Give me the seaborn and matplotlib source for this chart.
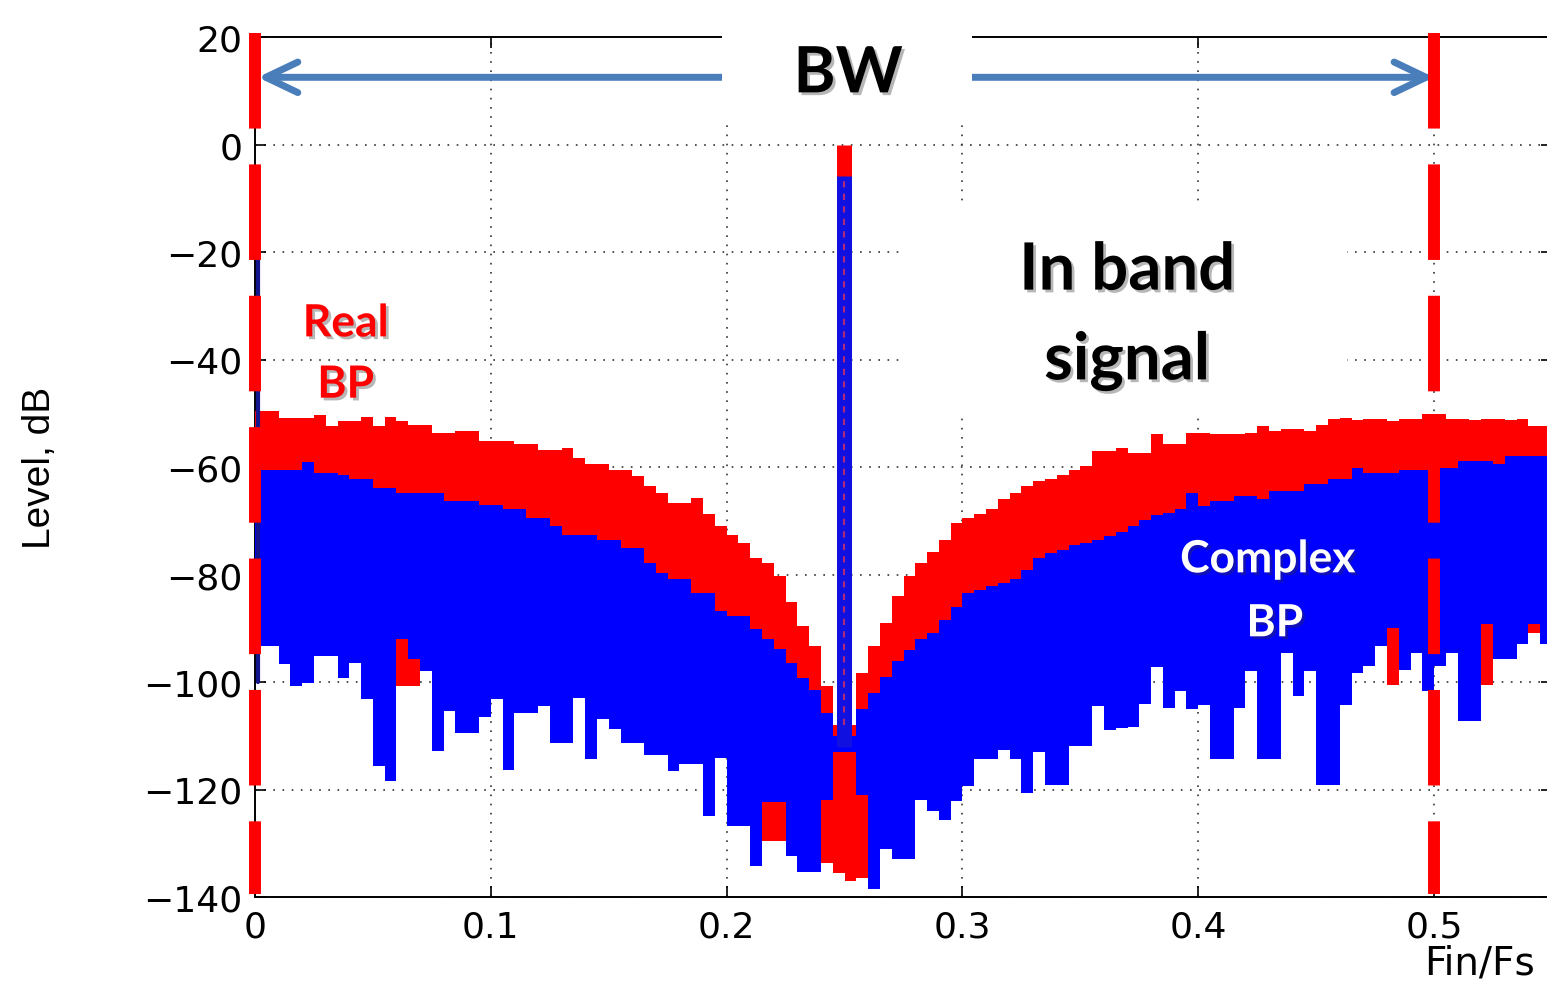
import numpy as np
import matplotlib
matplotlib.use("Agg")
import matplotlib.pyplot as plt
import seaborn as sns
from matplotlib import patheffects as pe
from matplotlib.patches import Rectangle

# ── Data (dB per 0.005 Fin/Fs bin) ──────────────────────────────
bin_width = 0.005

real_top = [
    -49.6, -49.6, -50.9, -50.9, -50.9, -50.4, -52.4, -51.5, -51.5, -50.7,
    -52.4, -50.7, -51.5, -52.1, -52.1, -53.6, -53.6, -53.3, -53.3, -55.2,
    -55.2, -55.2, -55.8, -55.8, -56.8, -56.8, -56.4, -58.3, -59.5, -59.5,
    -60.5, -60.5, -61.7, -63.6, -64.8, -66.7, -66.7, -65.7, -68.8, -71.0,
    -72.6, -74.1, -76.9, -77.8, -80.3, -85.2, -89.6, -93.3, -100.8, -108.0,
    -108.0, -98.3, -93.3, -89.0, -84.0, -80.3, -77.8, -75.9, -73.5, -70.4,
    -69.5, -68.8, -67.9, -66.0, -64.8, -63.6, -62.6, -62.3, -61.4, -60.5,
    -59.8, -57.0, -57.0, -56.4, -57.4, -57.4, -53.9, -55.8, -55.8, -53.6,
    -53.6, -53.9, -53.9, -53.9, -53.6, -52.4, -53.3, -52.9, -52.9, -53.3,
    -52.1, -51.1, -50.9, -51.3, -51.1, -51.1, -51.4, -51.1, -51.1, -50.2,
    -50.2, -51.1, -51.0, -51.2, -51.1, -51.1, -51.3, -51.1, -52.3, -52.3,
]
real_bot = [
    -93.3, -93.3, -96.7, -100.8, -100.1, -95.2, -95.2, -99.2, -96.4, -103.2,
    -115.7, -118.5, -100.8, -100.8, -98.0, -112.9, -105.4, -109.4, -109.4, -106.6,
    -103.2, -116.3, -105.7, -105.7, -104.5, -111.3, -111.3, -102.9, -114.4, -106.9,
    -108.8, -111.3, -111.3, -113.5, -113.5, -116.6, -115.3, -115.3, -125.0, -114.1,
    -126.8, -126.8, -134.3, -129.6, -129.6, -132.3, -135.4, -135.4, -133.6, -135.5,
    -137.0, -136.5, -138.6, -131.0, -133.0, -133.0, -121.9, -124.0, -125.6, -122.2,
    -119.4, -114.4, -114.4, -112.6, -114.4, -120.6, -113.0, -119.2, -119.2, -111.9,
    -111.9, -104.5, -109.0, -108.6, -108.4, -104.0, -97.2, -104.8, -101.7, -105.1,
    -104.2, -114.4, -114.4, -104.8, -98.0, -114.4, -114.4, -94.6, -102.6, -98.0,
    -119.2, -119.2, -104.2, -98.3, -97.0, -93.3, -100.5, -97.7, -94.6, -101.7,
    -97.0, -94.6, -107.3, -107.3, -100.5, -95.8, -95.8, -93.0, -90.8, -93.0,
]
complex_top = [
    -60.5, -60.5, -60.5, -60.5, -59.0, -61.1, -61.1, -61.4, -62.3, -62.3,
    -63.9, -63.9, -64.8, -64.8, -64.8, -64.8, -66.4, -66.4, -66.4, -67.0,
    -67.0, -67.9, -67.9, -69.5, -69.5, -71.0, -72.6, -72.6, -72.6, -73.5,
    -73.5, -75.0, -75.0, -77.8, -79.7, -80.9, -80.9, -83.4, -83.4, -86.8,
    -87.7, -87.7, -90.2, -92.0, -93.9, -96.4, -99.2, -101.4, -105.7, -110.0,
    -110.0, -105.0, -102.0, -99.0, -96.0, -94.0, -92.0, -90.8, -88.5, -86.0,
    -83.4, -82.8, -82.2, -81.5, -80.9, -79.1, -77.0, -76.0, -75.4, -74.5,
    -74.1, -73.5, -72.9, -72.0, -71.0, -69.8, -69.0, -68.5, -67.9, -64.8,
    -67.3, -66.3, -66.3, -65.4, -65.4, -66.0, -64.4, -64.4, -64.4, -63.2,
    -63.2, -62.2, -62.2, -60.2, -61.1, -61.1, -61.1, -60.5, -60.5, -60.5,
    -60.2, -60.2, -58.9, -58.9, -58.9, -59.5, -57.9, -57.9, -57.9, -57.9,
]
complex_bot = [
    -93.3, -93.3, -96.7, -100.8, -100.1, -95.2, -95.2, -99.2, -96.4, -103.2,
    -115.7, -118.5, -92.0, -95.8, -98.0, -112.9, -105.4, -109.4, -109.4, -106.6,
    -103.2, -116.3, -105.7, -105.7, -104.5, -111.3, -111.3, -102.9, -114.4, -106.9,
    -108.8, -111.3, -111.3, -113.5, -113.5, -116.6, -115.3, -115.3, -125.0, -114.1,
    -126.8, -126.8, -134.3, -122.4, -122.4, -132.3, -135.4, -135.4, -122.0, -113.0,
    -113.0, -121.0, -138.6, -131.0, -133.0, -133.0, -121.9, -124.0, -125.6, -122.2,
    -119.4, -114.4, -114.4, -112.6, -114.4, -120.6, -113.0, -119.2, -119.2, -111.9,
    -111.9, -104.5, -109.0, -108.6, -108.4, -104.0, -97.2, -104.8, -101.7, -105.1,
    -104.2, -114.4, -114.4, -104.8, -98.0, -114.4, -114.4, -94.6, -102.6, -98.0,
    -119.2, -119.2, -104.2, -98.3, -97.0, -93.3, -89.9, -97.7, -94.6, -101.7,
    -97.0, -94.6, -107.3, -107.3, -89.3, -95.8, -95.8, -93.0, -89.3, -93.0,
]

# in-band tone and the DC leak
tone_freq = 0.2498
tone_real_db = 0.0
tone_complex_db = -5.9
tone_floor_db = [-108.0, -112.0]
dc_freq = 0.0012
dc_db = [-20.0, -100.0]

bw_edges = [0.0, 0.5]
bw_arrow_db = 12.5

x_ticks = [0, 0.1, 0.2, 0.3, 0.4, 0.5]
x_labels = ["0", "0.1", "0.2", "0.3", "0.4", "0.5"]
y_ticks = [-140, -120, -100, -80, -60, -40, -20, 0, 20]

RED = "#ff0000"
BLUE = "#0000ff"
ARROW = "#4a7ebb"

# ── Style ───────────────────────────────────────────────────────
sns.set_theme(style="ticks")
plt.rcParams["font.family"] = ["DejaVu Sans"]
plt.rcParams["text.color"] = "black"

fig = plt.figure(figsize=(15.47, 9.87), dpi=100)
ax = fig.add_axes([255 / 1547, 89 / 987, 1297 / 1547, 860 / 987])
ax.set_xlim(0, 0.55)
ax.set_ylim(-140, 20)

# ── Spectra ─────────────────────────────────────────────────────
x_edges = np.arange(len(real_top) + 1) * bin_width


def steps(v):
    return np.append(v, v[-1])


ax.fill_between(x_edges, steps(real_bot), steps(real_top), step="post",
                color=RED, lw=0, zorder=3)
ax.fill_between(x_edges, steps(complex_bot), steps(complex_top), step="post",
                color=BLUE, lw=0, zorder=4)

# tone spike
ax.plot([tone_freq, tone_freq], [tone_floor_db[0], tone_real_db],
        color=RED, lw=10.8, solid_capstyle="butt", zorder=5)
ax.plot([tone_freq, tone_freq], [tone_floor_db[1], tone_complex_db],
        color="#1010e0", lw=10.8, solid_capstyle="butt", zorder=6)
ax.plot([tone_freq, tone_freq], [tone_floor_db[0], tone_complex_db],
        color="#b02878", lw=1.5, ls=(0, (3, 3)), zorder=7)
ax.plot([dc_freq, dc_freq], dc_db, color="#14148c", lw=3, zorder=5)

# ── Axes cosmetics ──────────────────────────────────────────────
ax.set_xticks(x_ticks)
ax.set_xticklabels(x_labels)
ax.set_yticks(y_ticks)
ax.tick_params(axis="both", direction="in", length=8, width=1.2,
               labelsize=26, pad=9, top=True, right=True, colors="black")
ax.grid(True, color="#333333", linestyle=(0, (1, 4.5)), lw=1.2)
ax.set_axisbelow(True)
for side in ["left", "bottom", "top", "right"]:
    ax.spines[side].set_color("black")
    ax.spines[side].set_linewidth(1.4)

fig.text(40 / 1547, 1 - 468 / 987, "Level, dB", rotation=90,
         ha="center", va="center", fontsize=28, color="black",
         family=["Liberation Sans", "DejaVu Sans"])
fig.text(1535 / 1547, 1 - 964 / 987, "Fin/Fs", ha="right", va="center",
         fontsize=28, color="black")

# ── BW markers ──────────────────────────────────────────────────
for xb in bw_edges:
    ax.plot([xb, xb], [20.8, -139.5], color=RED, lw=8.6,
            ls=(0, (8.0, 3.0)), dash_capstyle="butt",
            clip_on=False, zorder=9)

ax.annotate("", xy=(0.0012, bw_arrow_db), xytext=(bw_edges[1], bw_arrow_db),
            arrowprops=dict(arrowstyle="<->,head_length=2.3,head_width=1.1",
                            color=ARROW, lw=5, shrinkA=0, shrinkB=0,
                            mutation_scale=10, capstyle="round",
                            joinstyle="round"),
            zorder=8, annotation_clip=False)

ax.add_patch(Rectangle((0.198, 3.7), 0.106, 19.5, facecolor="white",
                       edgecolor="none", clip_on=False, zorder=10))
ax.add_patch(Rectangle((0.2757, -49.7), 0.1874, 38.0, facecolor="white",
                       edgecolor="none", zorder=2))

# ── Annotations ─────────────────────────────────────────────────
shadow = [pe.withSimplePatchShadow(offset=(2, -2), shadow_rgbFace="0.2",
                                   alpha=0.35)]
ann = dict(family=["Lato", "DejaVu Sans"], weight="bold", ha="center",
           va="baseline", path_effects=shadow, zorder=11)

ax.text(0.2515, 9.7, "BW", fontsize=46, color="black", **ann)
ax.text(0.3698, -27.0, "In band", fontsize=47, color="black", **ann)
ax.text(0.3698, -43.7, "signal", fontsize=47, color="black", **ann)
ax.text(0.0385, -35.7, "Real", fontsize=32, color=RED, **ann)
ax.text(0.0385, -47.1, "BP", fontsize=32, color=RED, **ann)
ax.text(0.4295, -79.6, "Complex", fontsize=32, color="white", **ann)
ax.text(0.4325, -91.5, "BP", fontsize=32, color="white", **ann)

plt.savefig("out.png", dpi=100)
